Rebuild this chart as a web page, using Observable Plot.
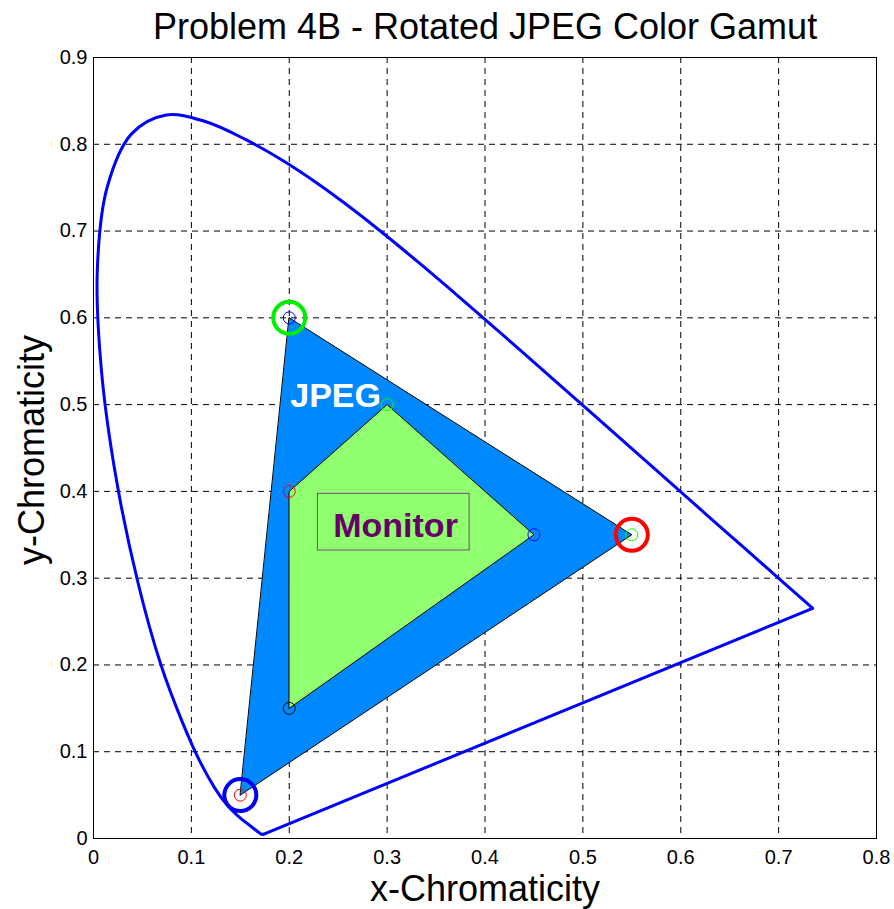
<!DOCTYPE html>
<html>
<head>
<meta charset="utf-8">
<script src="https://cdn.jsdelivr.net/npm/d3@7"></script>
<script src="https://cdn.jsdelivr.net/npm/@observablehq/plot@0.6"></script>
<style>
  body { margin: 0; background: #fff; }
  #chart svg { font-family: "Liberation Sans", Arial, Helvetica, sans-serif; }
</style>
</head>
<body>
<div id="chart"></div>
<script>
// Spectral locus (CIE 1931), 380–700 nm
const locusX = [0.1741,0.1740,0.1738,0.1736,0.1733,0.1730,0.1726,0.1721,0.1714,0.1703,0.1689,0.1669,0.1644,0.1611,0.1566,0.1510,0.1440,0.1355,0.1241,0.1096,0.0913,0.0687,0.0454,0.0235,0.0082,0.0039,0.0139,0.0389,0.0743,0.1142,0.1547,0.1929,0.2296,0.2658,0.3016,0.3373,0.3731,0.4087,0.4441,0.4788,0.5125,0.5448,0.5752,0.6029,0.6270,0.6482,0.6658,0.6801,0.6915,0.7006,0.7079,0.7140,0.7190,0.7230,0.7260,0.7283,0.7300,0.7311,0.7320,0.7327,0.7334,0.7340,0.7344,0.7346,0.7347];
const locusY = [0.0050,0.0050,0.0049,0.0049,0.0048,0.0048,0.0048,0.0048,0.0051,0.0058,0.0069,0.0086,0.0109,0.0138,0.0177,0.0227,0.0297,0.0399,0.0578,0.0868,0.1327,0.2007,0.2950,0.4127,0.5384,0.6548,0.7502,0.8120,0.8338,0.8262,0.8059,0.7816,0.7543,0.7243,0.6923,0.6589,0.6245,0.5896,0.5547,0.5202,0.4866,0.4544,0.4242,0.3965,0.3725,0.3514,0.3340,0.3197,0.3083,0.2993,0.2920,0.2859,0.2809,0.2770,0.2740,0.2717,0.2700,0.2689,0.2680,0.2673,0.2666,0.2660,0.2656,0.2654,0.2653];
// Line of purples (700 nm back to 380 nm)
const purpleX = [0.7347, 0.1741];
const purpleY = [0.2653, 0.0050];

// Rotated JPEG gamut (triangle)
const jpegX = [0.2, 0.55, 0.15];
const jpegY = [0.6, 0.35, 0.05];
const jpegSmallColors = ["#0000ff", "#00ff00", "#ff0000"];
const jpegBigColors = ["#00ee00", "#ff0000", "#0000ee"];

// Monitor gamut (quadrilateral)
const monitorX = [0.2, 0.3, 0.45, 0.2];
const monitorY = [0.4, 0.5, 0.35, 0.15];
const monitorColors = ["#ff0000", "#00ff00", "#0000ff", "#000000"];

// Annotations
const labelNames = ["JPEG", "Monitor"];
const labelX = [0.201, 0.3086];
const labelY = [0.497, 0.348];
const monitorBoxX = [0.2293, 0.3843];
const monitorBoxY = [0.3319, 0.3972];

// Axes
const xTicks = [0, 0.1, 0.2, 0.3, 0.4, 0.5, 0.6, 0.7, 0.8];
const xTickLabels = ["0", "0.1", "0.2", "0.3", "0.4", "0.5", "0.6", "0.7", "0.8"];
const yTicks = [0, 0.1, 0.2, 0.3, 0.4, 0.5, 0.6, 0.7, 0.8, 0.9];
const yTickLabels = ["0", "0.1", "0.2", "0.3", "0.4", "0.5", "0.6", "0.7", "0.8", "0.9"];
const titleText = "Problem 4B - Rotated JPEG Color Gamut";
const xLabel = "x-Chromaticity";
const yLabel = "y-Chromaticity";

const locus = locusX.map((x, i) => ({x, y: locusY[i]}));
const purple = purpleX.map((x, i) => ({x, y: purpleY[i]}));
const jpeg = jpegX.map((x, i) => ({x, y: jpegY[i], small: jpegSmallColors[i], big: jpegBigColors[i]}));
const monitor = monitorX.map((x, i) => ({x, y: monitorY[i], c: monitorColors[i]}));
const labels = labelNames.map((t, i) => ({t, x: labelX[i], y: labelY[i]}));
const box = [{x1: monitorBoxX[0], x2: monitorBoxX[1], y1: monitorBoxY[0], y2: monitorBoxY[1]}];

const dash = "6,5";
const chart = Plot.plot({
  width: 894,
  height: 909,
  marginTop: 57,
  marginBottom: 71,
  marginLeft: 93,
  marginRight: 18,
  style: {fontFamily: '"Liberation Sans", Arial, sans-serif', fontSize: "20px", color: "black", background: "white"},
  x: {domain: [0, 0.8]},
  y: {domain: [0, 0.9]},
  color: {type: "identity"},
  marks: [
    Plot.gridX(xTicks.slice(1, -1), {stroke: "black", strokeOpacity: 1, strokeWidth: 1, strokeDasharray: dash}),
    Plot.gridY(yTicks.slice(1, -1), {stroke: "black", strokeOpacity: 1, strokeWidth: 1, strokeDasharray: dash}),
    Plot.line(jpeg, {x: "x", y: "y", curve: "linear-closed", fill: "#0088ff", stroke: "black", strokeWidth: 1}),
    Plot.line(monitor, {x: "x", y: "y", curve: "linear-closed", fill: "#90ff70", stroke: "black", strokeWidth: 1}),
    Plot.line(locus, {x: "x", y: "y", curve: "catmull-rom", stroke: "#0000ff", strokeWidth: 3, strokeLinejoin: "round"}),
    Plot.line(purple, {x: "x", y: "y", stroke: "#0000ff", strokeWidth: 3, strokeLinecap: "round"}),
    Plot.dot(jpeg, {x: "x", y: "y", r: 6, stroke: "small", strokeWidth: 1}),
    Plot.dot(monitor, {x: "x", y: "y", r: 6, stroke: "c", strokeWidth: 1}),
    Plot.dot(jpeg, {x: "x", y: "y", r: 16, stroke: "big", strokeWidth: 4}),
    Plot.rect(box, {x1: "x1", x2: "x2", y1: "y1", y2: "y2", fill: "none", stroke: "#7a4a7a", strokeWidth: 1}),
    Plot.text(labels.slice(0, 1), {x: "x", y: "y", text: "t", textAnchor: "start", lineAnchor: "bottom", fill: "white", fontWeight: "bold", fontSize: 34}),
    Plot.text(labels.slice(1), {x: "x", y: "y", text: "t", textAnchor: "middle", lineAnchor: "bottom", fill: "#660066", fontWeight: "bold", fontSize: 34}),
    Plot.frame({stroke: "black", strokeWidth: 1}),
    Plot.axisX(xTicks, {tickSize: 0, tickPadding: 11, fontSize: 20, label: null, tickFormat: d => xTickLabels[xTicks.indexOf(d)]}),
    Plot.axisY(yTicks, {tickSize: 0, tickPadding: 6, fontSize: 20, label: null, tickFormat: d => yTickLabels[yTicks.indexOf(d)]}),
    Plot.text([titleText], {text: d => d, frameAnchor: "top", dy: -19, lineAnchor: "bottom", fontSize: 36}),
    Plot.text([xLabel], {text: d => d, frameAnchor: "bottom", dy: 62, lineAnchor: "bottom", textAnchor: "middle", fontSize: 36}),
    Plot.text([yLabel], {text: d => d, frameAnchor: "left", dx: -50, dy: 2, rotate: -90, lineAnchor: "bottom", textAnchor: "middle", fontSize: 36})
  ]
});
document.getElementById("chart").appendChild(chart);
</script>
</body>
</html>
